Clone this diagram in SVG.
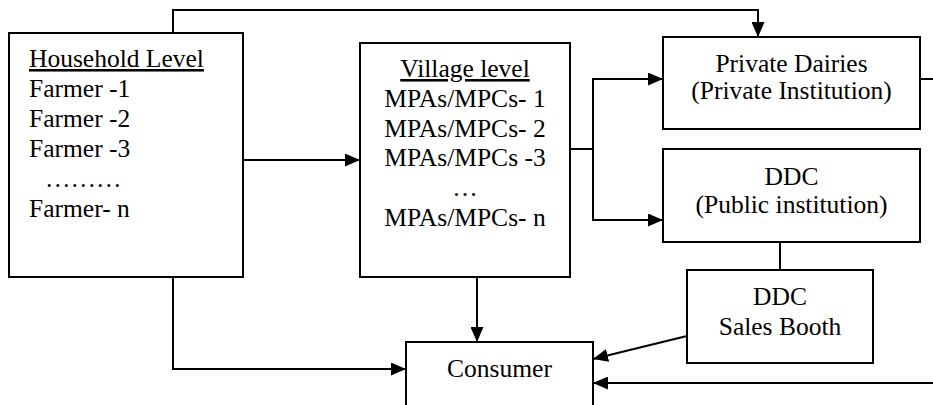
<svg xmlns="http://www.w3.org/2000/svg" width="933" height="405" viewBox="0 0 933 405">
<defs>
<style>
.box{fill:#fff;stroke:#000;stroke-width:2}
.ln{fill:none;stroke:#000;stroke-width:2}
.arr{marker-end:url(#ah)}
.c{text-anchor:middle}
.u{text-decoration:underline}
</style>
<marker id="ah" markerUnits="userSpaceOnUse" markerWidth="15" markerHeight="13" refX="15" refY="6.5" orient="auto">
<path d="M0,0 L15,6.5 L0,13 z" fill="#000"/>
</marker>
</defs>
<rect width="933" height="405" fill="#fff"/>
<g id="connectors">
<path class="ln arr" d="M173,33 V10 H758 V37"/>
<path class="ln arr" d="M243,160 H360"/>
<path class="ln arr" d="M570,149 H593 V79 H663"/>
<path class="ln arr" d="M593,149 V220 H663"/>
<path class="ln" d="M920,79 H933"/>
<path class="ln" d="M780,242 V270"/>
<path class="ln arr" d="M173,277 V369 H406"/>
<path class="ln arr" d="M477,277 V342"/>
<path class="ln arr" d="M687,336 L593,359"/>
<path class="ln arr" d="M933,383 H593"/>
</g>
<g font-family="Liberation Serif, Times New Roman, serif" font-size="25.5" fill="#000">
<g id="household">
<rect class="box" x="9" y="33" width="234" height="244"/>
<text x="29" y="67" class="u">Household Level</text>
<text x="29" y="97">Farmer -1</text>
<text x="29" y="127">Farmer -2</text>
<text x="29" y="157">Farmer -3</text>
<text x="45" y="187">………</text>
<text x="29" y="217">Farmer- n</text>
</g>
<g id="village">
<rect class="box" x="360" y="43" width="210" height="234"/>
<text x="465" y="77" class="c u">Village level</text>
<text x="465" y="107" class="c">MPAs/MPCs- 1</text>
<text x="465" y="137" class="c">MPAs/MPCs- 2</text>
<text x="465" y="166" class="c">MPAs/MPCs -3</text>
<text x="465" y="196" class="c">…</text>
<text x="465" y="226" class="c">MPAs/MPCs- n</text>
</g>
<g id="private">
<rect class="box" x="663" y="37" width="257" height="92"/>
<text x="791.5" y="72" class="c">Private Dairies</text>
<text x="791.5" y="99" class="c">(Private Institution)</text>
</g>
<g id="ddc">
<rect class="box" x="663" y="149" width="257" height="93"/>
<text x="791.5" y="185" class="c">DDC</text>
<text x="791.5" y="213" class="c">(Public institution)</text>
</g>
<g id="booth">
<rect class="box" x="687" y="270" width="186" height="93"/>
<text x="780" y="305" class="c">DDC</text>
<text x="780" y="335" class="c">Sales Booth</text>
</g>
<g id="consumer">
<rect class="box" x="406" y="342" width="187" height="80"/>
<text x="499.5" y="377" class="c">Consumer</text>
</g>
</g>
</svg>
